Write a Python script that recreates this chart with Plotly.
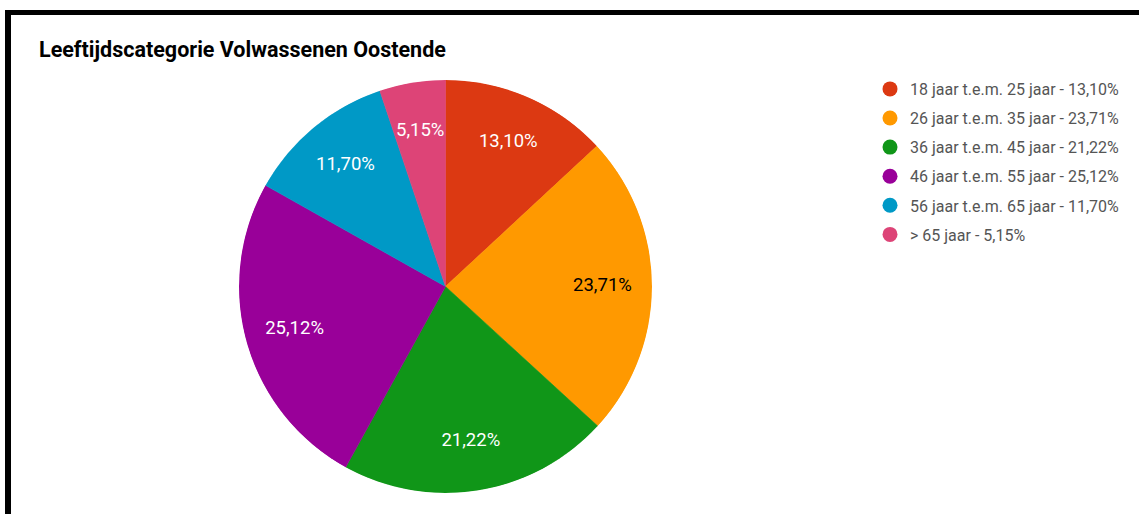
import plotly.graph_objects as go

W, H = 1139, 514

categories = [
    "18 jaar t.e.m. 25 jaar",
    "26 jaar t.e.m. 35 jaar",
    "36 jaar t.e.m. 45 jaar",
    "46 jaar t.e.m. 55 jaar",
    "56 jaar t.e.m. 65 jaar",
    "> 65 jaar",
]
values = [13.10, 23.71, 21.22, 25.12, 11.70, 5.15]
colors = ["#dc3912", "#ff9900", "#109618", "#990099", "#0099c6", "#dd4477"]
text_colors = ["white", "black", "white", "white", "white", "white"]
title = "Leeftijdscategorie Volwassenen Oostende"

def fmt(v):
    return f"{v:.2f}%".replace(".", ",")

pct_text = [fmt(v) for v in values]
total = sum(values)
widths = [v / total * 360 for v in values]
mids = []
acc = 0.0
for w in widths:
    mids.append(acc + w / 2)
    acc += w

fig = go.Figure()

cx, cy, r = 445.5, 286.5, 206.5
dom = dict(x=[(cx - r) / W, (cx + r) / W],
           y=[(H - (cy + r)) / H, (H - (cy - r)) / H])

fig.add_trace(go.Barpolar(
    r=[1] * len(values),
    theta=mids,
    width=widths,
    marker=dict(color=colors, line=dict(color=colors, width=0.6)),
    text=[f"{c}: {p}" for c, p in zip(categories, pct_text)],
    hoverinfo="text",
    showlegend=False,
))

fig.add_trace(go.Scatterpolar(
    r=[0.76] * len(values),
    theta=mids,
    mode="text",
    text=pct_text,
    textfont=dict(family="Roboto", size=18.5, color=text_colors),
    hoverinfo="skip",
    showlegend=False,
))

for i, (c, v) in enumerate(zip(categories, values)):
    fig.add_trace(go.Scatterpolar(
        r=[None], theta=[None], mode="markers",
        marker=dict(size=15, color=colors[i], symbol="circle"),
        name=f"{c} - {fmt(v)}",
        legendgroup=f"g{i}",
        showlegend=True,
    ))

fig.update_layout(
    width=W, height=H,
    margin=dict(l=0, r=0, t=0, b=0),
    paper_bgcolor="white",
    polar=dict(
        domain=dom,
        bgcolor="rgba(0,0,0,0)",
        hole=0,
        bargap=0,
        angularaxis=dict(rotation=90, direction="clockwise", visible=False,
                         showgrid=False, showline=False),
        radialaxis=dict(range=[0, 1], visible=False, showgrid=False,
                        showline=False),
    ),
    legend=dict(
        x=870 / W, y=1 - 72 / H, xanchor="left", yanchor="top",
        font=dict(family="Roboto", size=16, color="#555555"),
        itemsizing="trace",
        traceorder="grouped",
        tracegroupgap=5.3,
        bgcolor="rgba(0,0,0,0)",
    ),
    annotations=[dict(
        text=f"<b>{title}</b>", x=37 / W, y=1 - 50 / H,
        xref="paper", yref="paper", xanchor="left", yanchor="middle",
        showarrow=False, font=dict(family="Roboto", size=21.5, color="#000000"),
    )],
    shapes=[
        dict(type="rect", xref="paper", yref="paper",
             x0=5 / W, x1=1, y0=1 - 15 / H, y1=1 - 10 / H,
             fillcolor="black", line=dict(width=0), layer="above"),
        dict(type="rect", xref="paper", yref="paper",
             x0=5 / W, x1=11 / W, y0=0, y1=1 - 10 / H,
             fillcolor="black", line=dict(width=0), layer="above"),
    ],
)

fig.write_html("out.html")
